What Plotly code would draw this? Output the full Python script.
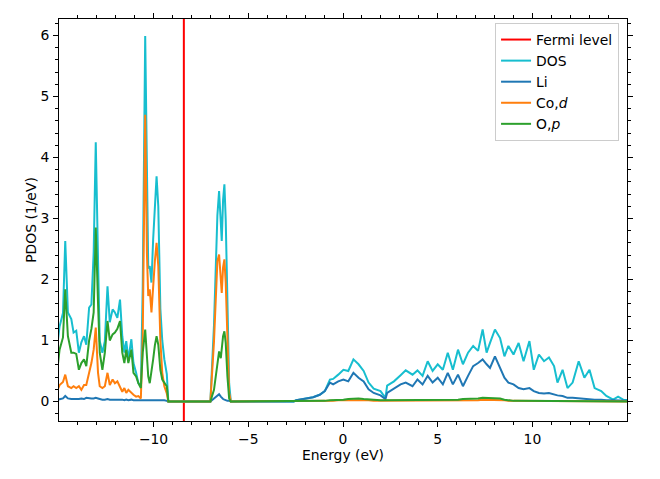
import plotly.graph_objects as go

# energy grid (eV) and projected DOS values (1/eV)
energy = [
    -15.05, -14.96, -14.78, -14.66, -14.52, -14.34, -14.22, -14.08, -13.94, -13.81,
    -13.67, -13.55, -13.40, -13.28, -13.16, -13.05, -12.93, -12.84, -12.70, -12.57,
    -12.43, -12.31, -12.16, -12.04, -11.91, -11.77, -11.65, -11.54, -11.44, -11.33,
    -11.17, -11.06, -10.92, -10.80, -10.67, -10.57, -10.44, -10.35, -10.28, -10.20,
    -10.11, -10.02, -9.93, -9.84, -9.75, -9.64, -9.54, -9.43, -9.30, -9.22,
    -7.00, -6.81, -6.63, -6.54, -6.45, -6.40, -6.33, -6.26, -6.19, -6.10,
    -6.01, -5.92, -2.60, -2.47, -1.94, -1.58, -1.23, -0.96, -0.69, -0.52,
    -0.25, 0.02, 0.28, 0.55, 0.82, 1.09, 1.35, 1.62, 1.98, 2.24,
    2.33, 2.69, 3.04, 3.31, 3.67, 3.93, 4.20, 4.47, 4.73, 5.00,
    5.27, 5.53, 5.80, 6.07, 6.33, 6.60, 6.87, 7.13, 7.37, 7.58,
    7.76, 8.02, 8.29, 8.52, 8.73, 9.00, 9.27, 9.53, 9.84, 10.07,
    10.34, 10.61, 10.87, 11.14, 11.32, 11.59, 11.85, 12.12, 12.44, 12.74,
    13.01, 13.28, 13.63, 13.90, 14.26, 14.52, 14.79, 15.05,
]
dos = [
    1.00, 1.23, 1.45, 2.63, 1.46, 1.35, 1.13, 1.16, 0.80, 0.97,
    1.07, 0.93, 1.54, 1.59, 2.44, 4.25, 2.33, 0.99, 0.80, 0.99,
    1.89, 1.30, 1.51, 1.46, 1.37, 1.67, 1.07, 0.80, 0.99, 0.69,
    1.02, 0.63, 0.47, 0.30, 0.25, 1.89, 5.99, 3.53, 2.18, 2.22,
    1.95, 2.66, 3.25, 3.69, 3.20, 1.52, 1.00, 0.69, 0.45, 0.00,
    0.00, 1.25, 3.05, 3.45, 2.93, 2.63, 3.30, 3.56, 2.98, 1.45,
    0.30, 0.00, 0.00, 0.02, 0.05, 0.07, 0.11, 0.17, 0.36, 0.37,
    0.44, 0.52, 0.50, 0.69, 0.61, 0.50, 0.31, 0.21, 0.17, 0.06,
    0.26, 0.33, 0.43, 0.51, 0.44, 0.51, 0.42, 0.66, 0.50, 0.61,
    0.52, 0.80, 0.52, 0.85, 0.61, 0.80, 0.91, 0.83, 1.18, 0.80,
    0.96, 1.18, 1.04, 0.74, 0.91, 0.77, 0.96, 0.66, 0.99, 0.52,
    0.77, 0.66, 0.72, 0.58, 0.31, 0.52, 0.22, 0.31, 0.66, 0.39,
    0.52, 0.22, 0.17, 0.09, 0.03, 0.08, 0.03, 0.02,
]
li = [
    0.03, 0.04, 0.05, 0.09, 0.05, 0.04, 0.04, 0.03, 0.04, 0.05,
    0.04, 0.06, 0.05, 0.05, 0.05, 0.06, 0.05, 0.04, 0.03, 0.03,
    0.04, 0.03, 0.03, 0.04, 0.03, 0.03, 0.03, 0.02, 0.03, 0.02,
    0.03, 0.02, 0.02, 0.02, 0.02, 0.02, 0.03, 0.03, 0.02, 0.02,
    0.02, 0.02, 0.02, 0.02, 0.02, 0.02, 0.02, 0.02, 0.01, 0.00,
    0.00, 0.05, 0.09, 0.12, 0.08, 0.06, 0.04, 0.03, 0.02, 0.01,
    0.01, 0.00, 0.00, 0.02, 0.05, 0.07, 0.11, 0.17, 0.31, 0.28,
    0.33, 0.36, 0.33, 0.47, 0.39, 0.33, 0.20, 0.14, 0.10, 0.04,
    0.14, 0.21, 0.28, 0.31, 0.25, 0.36, 0.28, 0.42, 0.31, 0.39,
    0.28, 0.47, 0.28, 0.44, 0.25, 0.42, 0.58, 0.63, 0.69, 0.61,
    0.55, 0.74, 0.55, 0.39, 0.31, 0.28, 0.22, 0.20, 0.22, 0.17,
    0.14, 0.13, 0.14, 0.11, 0.10, 0.09, 0.06, 0.06, 0.05, 0.04,
    0.04, 0.03, 0.03, 0.02, 0.02, 0.02, 0.02, 0.01,
]
co_d = [
    0.20, 0.27, 0.32, 0.44, 0.25, 0.22, 0.25, 0.22, 0.25, 0.19,
    0.27, 0.27, 0.47, 0.63, 0.85, 1.21, 0.47, 0.25, 0.22, 0.25,
    0.47, 0.27, 0.36, 0.30, 0.33, 0.25, 0.16, 0.22, 0.14, 0.19,
    0.14, 0.11, 0.08, 0.09, 0.05, 1.07, 4.70, 2.43, 1.73, 1.84,
    1.46, 1.94, 2.30, 2.60, 2.22, 1.00, 0.47, 0.25, 0.13, 0.00,
    0.00, 0.98, 2.30, 2.41, 2.05, 1.78, 2.20, 2.33, 1.95, 0.96,
    0.14, 0.00, 0.00, 0.00, 0.00, 0.00, 0.01, 0.01, 0.01, 0.01,
    0.02, 0.02, 0.02, 0.03, 0.03, 0.02, 0.02, 0.01, 0.01, 0.01,
    0.01, 0.01, 0.01, 0.01, 0.01, 0.01, 0.01, 0.02, 0.02, 0.02,
    0.02, 0.02, 0.02, 0.02, 0.02, 0.02, 0.02, 0.02, 0.03, 0.03,
    0.03, 0.03, 0.02, 0.02, 0.01, 0.01, 0.01, 0.01, 0.01, 0.01,
    0.01, 0.01, 0.01, 0.01, 0.01, 0.01, 0.00, 0.00, 0.00, 0.00,
    0.00, 0.00, 0.00, 0.00, 0.00, 0.00, 0.00, 0.00,
]
o_p = [
    0.60, 0.85, 1.05, 1.84, 1.07, 0.80, 0.80, 0.78, 0.52, 0.63,
    0.69, 0.58, 1.00, 1.19, 1.46, 2.85, 1.61, 0.80, 0.52, 0.80,
    1.32, 1.00, 1.10, 1.13, 1.19, 1.32, 0.80, 0.63, 0.85, 0.63,
    0.85, 0.47, 0.41, 0.30, 0.22, 0.80, 1.18, 0.74, 0.41, 0.30,
    0.47, 0.69, 0.92, 1.07, 0.93, 0.52, 0.36, 0.30, 0.25, 0.00,
    0.00, 0.19, 0.63, 0.82, 0.71, 0.85, 1.07, 1.15, 0.96, 0.41,
    0.05, 0.00, 0.00, 0.00, 0.00, 0.00, 0.01, 0.01, 0.02, 0.02,
    0.03, 0.03, 0.04, 0.05, 0.05, 0.04, 0.03, 0.03, 0.02, 0.02,
    0.02, 0.02, 0.02, 0.02, 0.02, 0.02, 0.03, 0.03, 0.03, 0.03,
    0.03, 0.03, 0.03, 0.03, 0.04, 0.04, 0.05, 0.05, 0.06, 0.06,
    0.06, 0.06, 0.05, 0.03, 0.02, 0.01, 0.01, 0.01, 0.01, 0.00,
    0.00, 0.00, 0.00, 0.00, 0.00, 0.00, 0.00, 0.00, 0.00, 0.00,
    0.00, 0.00, 0.00, 0.00, 0.00, 0.00, 0.00, 0.00,
]
fermi_level = -8.40

font = dict(family="DejaVu Sans", size=13.9, color="black")

fig = go.Figure()

# Fermi level as a vertical line spanning the y range
fig.add_trace(go.Scatter(x=[fermi_level, fermi_level], y=[-1, 10], mode="lines",
                         line=dict(color="#ff0000", width=2), name="Fermi level"))
fig.add_trace(go.Scatter(x=energy, y=dos, mode="lines",
                         line=dict(color="#17becf", width=2), name="DOS"))
fig.add_trace(go.Scatter(x=energy, y=li, mode="lines",
                         line=dict(color="#1f77b4", width=2), name="Li"))
fig.add_trace(go.Scatter(x=energy, y=co_d, mode="lines",
                         line=dict(color="#ff7f0e", width=2), name="Co,<i>d</i>"))
fig.add_trace(go.Scatter(x=energy, y=o_p, mode="lines",
                         line=dict(color="#2ca02c", width=2), name="O,<i>p</i>"))

axis_style = dict(showline=True, linecolor="black", linewidth=1, mirror="ticks",
                  ticks="outside", ticklen=5, tickwidth=1, tickcolor="black",
                  showgrid=False, zeroline=False, tickfont=font, automargin=False)

fig.update_xaxes(range=[-14.99, 14.99], tickvals=[-10, -5, 0, 5, 10],
                 minor=dict(dtick=1, ticks="outside", ticklen=3, tickcolor="black"),
                 title=dict(text="Energy (eV)", font=font, standoff=2), **axis_style)
fig.update_yaxes(range=[-0.32, 6.27], tick0=0, dtick=1, ticklabelstandoff=1,
                 minor=dict(dtick=0.2, ticks="outside", ticklen=3, tickcolor="black"),
                 title=dict(text="PDOS (1/eV)", font=font, standoff=0), **axis_style)

# the page body adds 8 px around the figure, so the figure is sized to fit inside it
fig.update_layout(
    width=644, height=463,
    margin=dict(l=51, r=25, t=11, b=50),
    plot_bgcolor="white", paper_bgcolor="white",
    font=font,
    legend=dict(x=0.986, y=0.99, xanchor="right", yanchor="top",
                bgcolor="rgba(255,255,255,0.8)", bordercolor="#cccccc", borderwidth=1,
                font=font, tracegroupgap=0, itemwidth=30),
)

fig.write_html("out.html")
